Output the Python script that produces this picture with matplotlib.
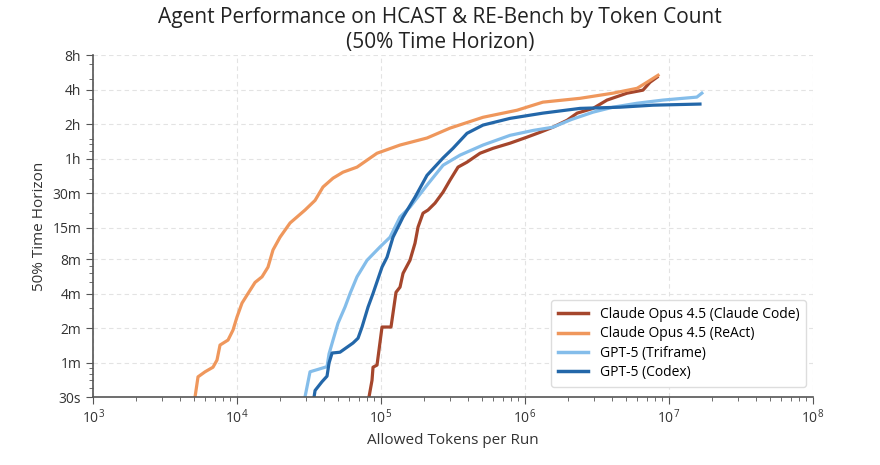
import matplotlib
matplotlib.use("Agg")
import matplotlib.pyplot as plt
from matplotlib.ticker import FixedLocator, FixedFormatter, LogLocator, NullFormatter

plt.rcParams['font.family'] = ['Open Sans', 'DejaVu Sans']
plt.rcParams['mathtext.fontset'] = 'custom'
plt.rcParams['mathtext.rm'] = 'Open Sans'

# tokens per run / time horizon (minutes)
cc_tokens = [82500, 86600, 88000, 93800, 101600, 117300, 127100, 135500, 142200, 158900,
             172200, 180700, 195700, 212000, 237100, 269800, 301300, 342600, 395400, 487000,
             599500, 786600, 1.03e6, 1.27e6, 1.56e6, 1.96e6, 2.30e6, 2.97e6, 3.71e6, 5.11e6,
             6.59e6, 7.38e6, 8.26e6]
cc_minutes = [0.5, 0.70, 0.91, 0.95, 2.04, 2.04, 4.1, 4.55, 6.0, 7.8,
              11, 15.2, 20.1, 21.4, 24.6, 30.7, 39, 50.7, 56, 67,
              74, 82, 92.5, 102, 113, 130, 150, 165, 195, 224,
              238, 279, 309]

react_tokens = [5110, 5360, 6000, 6810, 7260, 7620, 8660, 9380, 10000, 10830,
                11920, 13340, 14920, 16410, 17780, 19890, 23350, 29650, 34830, 39540,
                46420, 54450, 68130, 93760, 135500, 208600, 301300, 510900, 880000, 1.33e6,
                2.41e6, 4.08e6, 6.0e6, 7.03e6, 8.39e6]
react_minutes = [0.5, 0.75, 0.83, 0.91, 1.05, 1.42, 1.57, 1.92, 2.5, 3.3,
                 4.0, 5.0, 5.6, 6.8, 9.6, 12.4, 16.5, 21.4, 26, 34,
                 40.6, 45.8, 50.7, 67, 79, 91, 111, 138, 159, 187,
                 202, 224, 247, 279, 321]

triframe_tokens = [29650, 32140, 42170, 43550, 46420, 50240, 56230, 60950, 68130, 79980,
                   98400, 115500, 135500, 158900, 208600, 269800, 353800, 510900, 786600, 1.14e6,
                   1.56e6, 2.10e6, 2.97e6, 4.08e6, 6.0e6, 9.08e6, 1.56e7, 1.69e7]
triframe_minutes = [0.5, 0.83, 0.92, 1.19, 1.57, 2.2, 3.05, 4.0, 5.6, 7.8,
                    10.2, 12.4, 18.6, 22.7, 35.3, 52.7, 64.5, 79, 96, 106,
                    113, 132, 153, 169, 183, 195, 207, 224]

codex_tokens = [34270, 34830, 38910, 42170, 43550, 45710, 51880, 63900, 69250, 73790,
                81280, 87970, 101600, 110100, 121100, 142200, 172200, 208600, 269800, 316200,
                395400, 510900, 786600, 1.33e6, 2.41e6, 4.57e6, 7.74e6, 1.64e7]
codex_minutes = [0.5, 0.57, 0.68, 0.76, 0.99, 1.21, 1.23, 1.48, 1.63, 2.04,
                 3.05, 4.0, 6.8, 8.3, 12.4, 18.6, 27.7, 43, 61, 74,
                 100, 118, 135, 150, 165, 169, 176, 180]

series = [
    ("Claude Opus 4.5 (Claude Code)", cc_tokens, cc_minutes, "#a5462c"),
    ("Claude Opus 4.5 (ReAct)", react_tokens, react_minutes, "#ef975c"),
    ("GPT-5 (Triframe)", triframe_tokens, triframe_minutes, "#84bdea"),
    ("GPT-5 (Codex)", codex_tokens, codex_minutes, "#2367a9"),
]

ytick_vals = [0.5, 1, 2, 4, 8, 15, 30, 60, 120, 240, 480]
ytick_labels = ["30s", "1m", "2m", "4m", "8m", "15m", "30m", "1h", "2h", "4h", "8h"]

fig = plt.figure(figsize=(8.8, 4.65), dpi=100)
ax = fig.add_axes([0.1057, 0.1462, 0.8182, 0.735])

for label, xs, ys, color in series:
    ax.plot(xs, ys, color=color, lw=2.3, label=label, solid_joinstyle='round')

ax.set_xscale('log')
ax.set_yscale('log')
ax.set_xlim(1e3, 1e8)
ax.set_ylim(0.5, 480)

ax.yaxis.set_major_locator(FixedLocator(ytick_vals))
ax.yaxis.set_major_formatter(FixedFormatter(ytick_labels))
ax.yaxis.set_minor_locator(LogLocator(base=10, subs='auto', numticks=20))
ax.yaxis.set_minor_formatter(NullFormatter())

ax.grid(True, which='major', ls=(0, (4, 3)), color='#e3e3e3', lw=0.8)
for s in ['top', 'right']:
    ax.spines[s].set_visible(False)
for s in ['left', 'bottom']:
    ax.spines[s].set_color('#555555')
    ax.spines[s].set_linewidth(1.2)
ax.tick_params(which='major', length=5, color='#555555', labelcolor='#333333', labelsize=10)
ax.tick_params(which='minor', length=3, color='#555555')

ax.set_xlabel("Allowed Tokens per Run", fontsize=11, color='#333333')
ax.set_ylabel("50% Time Horizon", fontsize=11, color='#333333')
fig.text(0.5, 1 - 30 / 465, "Agent Performance on HCAST & RE-Bench by Token Count\n(50% Time Horizon)",
         ha='center', va='center', fontsize=15, color='#222222', linespacing=1.25)

leg = ax.legend(loc='lower right', fontsize=10, frameon=True, framealpha=1,
                edgecolor='#dddddd', handlelength=2.2, borderpad=0.5, labelspacing=0.3,
                bbox_to_anchor=(1.0, 0.01))
for line in leg.get_lines():
    line.set_linewidth(2.5)

fig.savefig("out.png", dpi=100, facecolor='white')
